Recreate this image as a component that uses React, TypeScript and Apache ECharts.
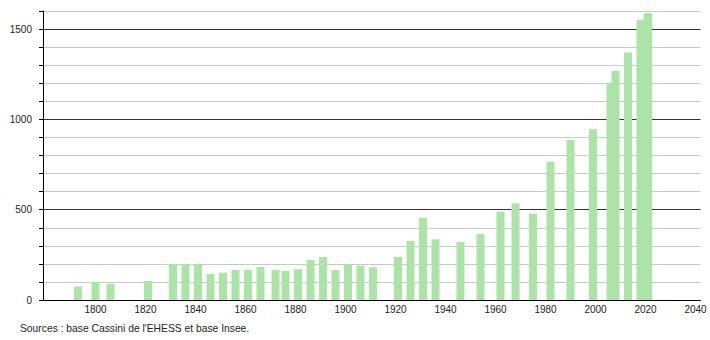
import React, { useEffect, useRef } from "react";
import * as echarts from "echarts";

const years = [1793, 1800, 1806, 1821, 1831, 1836, 1841, 1846, 1851, 1856, 1861, 1866, 1872, 1876, 1881, 1886, 1891, 1896, 1901, 1906, 1911, 1921, 1926, 1931, 1936, 1946, 1954, 1962, 1968, 1975, 1982, 1990, 1999, 2006, 2008, 2013, 2018, 2021];
const population = [75, 100, 90, 105, 198, 198, 200, 144, 151, 166, 166, 183, 166, 161, 170, 222, 238, 166, 194, 190, 181, 238, 327, 454, 336, 321, 366, 488, 536, 478, 765, 886, 946, 1200, 1269, 1370, 1551, 1588];
const yLabelValues = [0, 500, 1000, 1500];
const xLabelStep = 20;
const sourceText = "Sources : base Cassini de l'EHESS et base Insee.";

export default function App() {
  const ref = useRef<HTMLDivElement>(null);
  useEffect(() => {
    document.body.style.margin = "0";
    if (!ref.current) return;
    const chart = echarts.init(ref.current, null, { renderer: "svg" });
    const font = "'Liberation Sans', Arial, sans-serif";
    chart.setOption({
      animation: false,
      textStyle: { fontFamily: font },
      grid: { left: 43, right: 9.5, top: 11, bottom: 40, containLabel: false },
      xAxis: {
        type: "value",
        min: 1779,
        max: 2042,
        splitNumber: 13,
        axisLine: { show: true, lineStyle: { color: "#000", width: 1 } },
        axisTick: { show: false },
        splitLine: { show: false },
        axisLabel: {
          margin: 4,
          fontSize: 10,
          color: "#222",
          fontFamily: font,
          showMinLabel: false,
          showMaxLabel: false,
          formatter: (v: number) => (v % xLabelStep === 0 && v > 1780 ? String(v) : ""),
        },
      },
      yAxis: {
        type: "value",
        min: 0,
        max: 1600,
        interval: 100,
        axisLine: { show: true, lineStyle: { color: "#000", width: 1 } },
        axisTick: { show: true, length: 4, lineStyle: { color: "#000" } },
        axisLabel: {
          margin: 11,
          fontSize: 10,
          color: "#222",
          fontFamily: font,
          formatter: (v: number) => (yLabelValues.includes(v) ? String(v) : ""),
        },
        splitLine: {
          show: true,
          lineStyle: { color: ["#333", "#c8c8c8", "#c8c8c8", "#c8c8c8", "#c8c8c8"], width: 1 },
        },
      },
      series: [
        {
          type: "bar",
          barWidth: 8,
          itemStyle: { color: "#ace4a8" },
          data: years.map((y, i) => [y, population[i]]),
        },
      ],
      graphic: [
        {
          type: "text",
          left: 20,
          top: 323,
          style: { text: sourceText, fontSize: 10.3, fill: "#222", fontFamily: font },
        },
      ],
    });
    return () => chart.dispose();
  }, []);
  return <div ref={ref} style={{ width: 710, height: 340 }} />;
}
